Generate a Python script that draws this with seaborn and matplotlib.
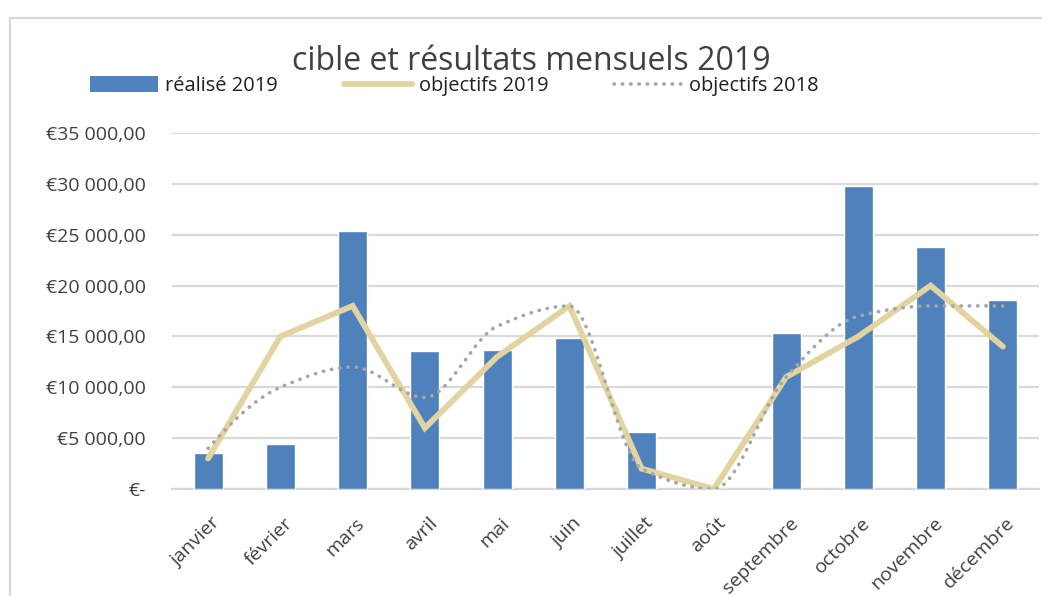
import numpy as np
import pandas as pd
import matplotlib
matplotlib.use("Agg")
import matplotlib.pyplot as plt
import matplotlib.transforms as mtransforms
import seaborn as sns
from matplotlib.lines import Line2D
from matplotlib.patches import Patch
from matplotlib.ticker import FuncFormatter

months = ["janvier", "février", "mars", "avril", "mai", "juin", "juillet",
          "août", "septembre", "octobre", "novembre", "décembre"]
realise_2019 = [3500, 4400, 25400, 13600, 13700, 14800, 5600, 0, 15300, 29800, 23800, 18600]
objectifs_2019 = [3000, 15000, 18000, 6000, 13000, 18000, 2000, 0, 11000, 15000, 20000, 14000]
objectifs_2018 = [4000, 10000, 12000, 9000, 16000, 18000, 2000, 0, 11000, 17000, 18000, 18000]
y_ticks = [0, 5000, 10000, 15000, 20000, 25000, 30000, 35000]

sns.set_theme(style="white")
plt.rcParams['font.family'] = ['Open Sans', 'DejaVu Sans']

BLUE = "#4f81bd"
GOLD = "#e2d4a0"
GREY = "#a6a6a6"
GRID = "#d9d9d9"
TXT = "#404040"

fig = plt.figure(figsize=(10.42, 5.96), dpi=100)
ax = fig.add_axes([172/1042, 1-489/596, (1039-172)/1042, (489-133)/596])

df = pd.DataFrame({"mois": months, "realise": realise_2019})
sns.barplot(data=df, x="mois", y="realise", color=BLUE, saturation=1,
            width=0.40, ax=ax, zorder=2)

xs = np.arange(len(months))
ax.set_xlim(-0.5, 11.5)
ax.set_ylim(0, 35000)

sns.lineplot(x=xs, y=objectifs_2019, color=GOLD, lw=4.2, ax=ax, zorder=3,
             solid_joinstyle="miter", solid_capstyle="round")

# smoothed (shape-preserving cubic) rendering of the 2018 targets
def pchip_curve(x, y, n=24):
    x = np.asarray(x, float); y = np.asarray(y, float)
    d = np.diff(y) / np.diff(x)
    m = np.zeros_like(y)
    for i in range(1, len(y) - 1):
        if d[i-1] * d[i] > 0:
            m[i] = 2.0 / (1.0 / d[i-1] + 1.0 / d[i])
    def endslope(d0, d1):
        s = (3 * d0 - d1) / 2
        if np.sign(s) != np.sign(d0):
            return 0.0
        if np.sign(d0) != np.sign(d1) and abs(s) > 3 * abs(d0):
            return 3 * d0
        return s
    m[0] = endslope(d[0], d[1]); m[-1] = endslope(d[-1], d[-2])
    ox, oy = [], []
    t = np.linspace(0, 1, n, endpoint=False)
    for i in range(len(y) - 1):
        h = x[i+1] - x[i]
        h00 = 2*t**3 - 3*t**2 + 1; h10 = t**3 - 2*t**2 + t
        h01 = -2*t**3 + 3*t**2; h11 = t**3 - t**2
        ox.extend(x[i] + t * h)
        oy.extend(h00*y[i] + h10*h*m[i] + h01*y[i+1] + h11*h*m[i+1])
    ox.append(x[-1]); oy.append(y[-1])
    return np.array(ox), np.array(oy)

sx, sy = pchip_curve(xs, objectifs_2018)
ax.plot(sx, sy, color=GREY, lw=2.6, linestyle=(0, (0.1, 2.2)),
        dash_capstyle="round", zorder=4)

ax.set_yticks(y_ticks)

def fmt(v, pos):
    if v == 0:
        return "€-"
    s = f"{int(v):,}".replace(",", " ")
    return f"€{s},00"
ax.yaxis.set_major_formatter(FuncFormatter(fmt))
ax.grid(axis="y", color=GRID, lw=1.6, zorder=0)
ax.set_axisbelow(True)
for s in ["top", "right", "left"]:
    ax.spines[s].set_visible(False)
ax.spines["bottom"].set_color(GRID)
ax.spines["bottom"].set_linewidth(1.6)
ax.spines["bottom"].set_zorder(1)

ax.set_xlabel("")
ax.set_ylabel("")
ax.tick_params(axis="y", length=0, labelsize=14, labelcolor=TXT, pad=19)
ax.set_xticks(xs)
ax.set_xticklabels(months, rotation=45, ha="right", rotation_mode="anchor",
                   fontsize=14, color=TXT)
ax.tick_params(axis="x", length=0, pad=18)
offset = mtransforms.ScaledTranslation(3/100, 0, fig.dpi_scale_trans)
for lab in ax.get_xticklabels():
    lab.set_transform(lab.get_transform() + offset)
# category boundary ticks
ax.set_xticks(np.arange(-0.5, 12, 1), minor=True)
ax.tick_params(axis="x", which="minor", length=6, width=1.5, color=GRID, direction="out")

fig.text(531/1042, 1-70/596, "cible et résultats mensuels 2019", ha="center",
         va="baseline", fontsize=23, color=TXT)

handles = [Patch(facecolor=BLUE, edgecolor="none"),
           Line2D([0], [0], color=GOLD, lw=4.2, solid_capstyle="round"),
           Line2D([0], [0], color=GREY, lw=2.6, linestyle=(0, (0.1, 2.2)), dash_capstyle="round")]
labels = ["réalisé 2019", "objectifs 2019", "objectifs 2018"]
leg = fig.legend(handles, labels, loc="center left", bbox_to_anchor=(90/1042, 1-86/596),
                 ncol=3, frameon=False, fontsize=14.4, handlelength=3.4, handleheight=0.85,
                 handletextpad=0.35, columnspacing=3.3, labelcolor="#202020",
                 borderaxespad=0, borderpad=0)

fig.add_artist(Line2D([10/1042, 1], [1-18/596, 1-18/596], color=GRID, lw=1.6,
                      transform=fig.transFigure))
fig.add_artist(Line2D([10/1042, 10/1042], [0, 1-18/596], color=GRID, lw=1.6,
                      transform=fig.transFigure))

fig.savefig("out.png", dpi=100, facecolor="white")
